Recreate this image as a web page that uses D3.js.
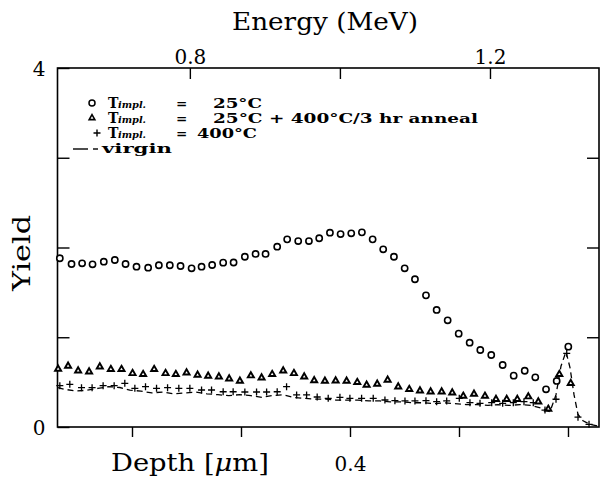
<!DOCTYPE html>
<html><head><meta charset="utf-8">
<script src="https://cdn.jsdelivr.net/npm/d3@7/dist/d3.min.js"></script>
<style>body{margin:0;background:#fff}svg{display:block}</style>
</head><body>
<svg id="c" width="600" height="477"></svg>
<script>
// ---- data (energy in MeV, yield) ----
const energyCircle = [0.6267,0.6423,0.6564,0.6703,0.6853,0.7000,0.7143,0.7289,0.7444,0.7587,0.7733,0.7876,0.8023,0.8156,0.8297,0.8444,0.8583,0.8733,0.8876,0.9009,0.9164,0.9297,0.9444,0.9587,0.9724,0.9867,1.0009,1.0151,1.0293,1.0436,1.0577,1.0720,1.0863,1.1000,1.1147,1.1289,1.1436,1.1583,1.1729,1.1871,1.2017,1.2169,1.2316,1.2463,1.2604,1.2747,1.2889,1.3044];
const yieldCircle = [1.88,1.816,1.824,1.813,1.842,1.861,1.816,1.786,1.775,1.802,1.802,1.794,1.768,1.786,1.805,1.831,1.833,1.897,1.928,1.928,2.009,2.091,2.072,2.072,2.103,2.165,2.150,2.158,2.169,2.091,1.98,1.897,1.768,1.646,1.467,1.304,1.189,1.040,0.939,0.858,0.802,0.691,0.572,0.627,0.554,0.42,0.513,0.895];

const energyTriangle = [0.6244,0.6377,0.6511,0.6657,0.6800,0.6947,0.7089,0.7236,0.7377,0.7524,0.7676,0.7813,0.7956,0.8103,0.8244,0.8387,0.8524,0.8667,0.8813,0.8956,0.9097,0.9244,0.9387,0.9524,0.9657,0.9800,0.9943,1.0089,1.0231,1.0356,1.0497,1.0636,1.0777,1.0924,1.1067,1.1209,1.1356,1.1497,1.1644,1.1787,1.1933,1.2080,1.2223,1.2364,1.2511,1.2644,1.2777,1.2924,1.3076];
const yieldTriangle = [0.646,0.680,0.627,0.616,0.672,0.643,0.643,0.598,0.587,0.643,0.598,0.587,0.605,0.579,0.568,0.560,0.538,0.513,0.572,0.549,0.587,0.627,0.598,0.560,0.518,0.513,0.516,0.513,0.498,0.468,0.479,0.524,0.449,0.420,0.404,0.393,0.393,0.382,0.345,0.368,0.345,0.309,0.309,0.309,0.338,0.282,0.2,0.587,0.487];

const energyPlus = [0.6267,0.6400,0.6556,0.6697,0.6844,0.6991,0.7133,0.7267,0.7409,0.7556,0.7703,0.7853,0.8000,0.8156,0.8289,0.8444,0.8577,0.8733,0.8889,0.9023,0.9164,0.9289,0.9423,0.9556,0.9697,0.9844,1.0000,1.0133,1.0289,1.0444,1.0600,1.0733,1.0867,1.1000,1.1147,1.1289,1.1423,1.1591,1.1733,1.1867,1.2023,1.2169,1.2311,1.2453,1.2577,1.2733,1.2880,1.3023,1.3173,1.3320];
const yieldPlus = [0.460,0.476,0.438,0.438,0.460,0.460,0.487,0.431,0.449,0.431,0.438,0.431,0.431,0.412,0.412,0.393,0.393,0.390,0.390,0.390,0.393,0.449,0.357,0.357,0.334,0.320,0.331,0.320,0.320,0.320,0.301,0.293,0.290,0.290,0.293,0.282,0.290,0.320,0.271,0.264,0.271,0.264,0.271,0.282,0.271,0.189,0.309,0.821,0.11,0.03];

const energyVirgin = [0.624,0.6333,0.6480,0.6627,0.6773,0.6920,0.7067,0.7200,0.7347,0.7493,0.7640,0.7787,0.7933,0.8080,0.8227,0.8373,0.8520,0.8667,0.8813,0.8960,0.9093,0.9240,0.9373,0.9520,0.9667,0.9813,0.9947,1.0093,1.0240,1.0387,1.0533,1.0667,1.0813,1.0960,1.1107,1.1253,1.1387,1.1533,1.1680,1.1827,1.1973,1.2107,1.2253,1.2400,1.2547,1.2680,1.2800,1.2880,1.2947,1.3013,1.3067,1.3120,1.3173,1.3240,1.3333,1.3440];
const yieldVirgin = [0.44,0.42,0.40,0.41,0.43,0.45,0.44,0.41,0.40,0.38,0.39,0.37,0.38,0.39,0.37,0.36,0.35,0.36,0.35,0.33,0.35,0.36,0.33,0.32,0.31,0.31,0.30,0.30,0.30,0.29,0.29,0.28,0.28,0.27,0.27,0.26,0.27,0.26,0.25,0.25,0.24,0.25,0.24,0.25,0.24,0.21,0.17,0.36,0.68,0.84,0.66,0.36,0.14,0.07,0.03,0.01];

const energyTicks = [0.8, 1.0, 1.2];
const energyTickLabels = ["0.8", "", "1.2"];
const depthTicks = [0, 0.2, 0.4, 0.6, 0.8];
const depthTickLabels = ["", "", "0.4", "", ""];
const yieldTicks = [0, 1, 2, 3, 4];
const yieldTickLabels = ["0", "", "", "", "4"];

const legendLabels = ["25°C", "25°C + 400°C/3 hr anneal", "400°C", "virgin"];

// ---- layout ----
const L = 57.5, R = 599, T = 68, B = 427;
const svg = d3.select("#c");
const xE = d3.scaleLinear().domain([0.6236, 1.3453]).range([L, R]);
const xD = d3.scaleLinear().domain([0.9367, -0.0569]).range([L, R]);
const y = d3.scaleLinear().domain([0, 4]).range([B, T]);
const serif = "'DejaVu Serif', serif";

// axes
const gTop = svg.append("g").attr("transform", `translate(0,${T})`)
  .call(d3.axisTop(xE).tickValues(energyTicks).tickSize(-11).tickSizeOuter(0)
    .tickPadding(4).tickFormat((d,i) => energyTickLabels[i]));
const gBot = svg.append("g").attr("transform", `translate(0,${B})`)
  .call(d3.axisBottom(xD).tickValues(depthTicks).tickSize(10).tickSizeOuter(0)
    .tickPadding(20).tickFormat((d,i) => depthTickLabels[i]));
const gLeft = svg.append("g").attr("transform", `translate(${L},0)`)
  .call(d3.axisLeft(y).tickValues(yieldTicks).tickSize(-12).tickSizeOuter(0)
    .tickPadding(12).tickFormat((d,i) => yieldTickLabels[i]));
const gRight = svg.append("g").attr("transform", `translate(${R},0)`)
  .call(d3.axisRight(y).tickValues([1,2,3]).tickSize(-12).tickSizeOuter(0).tickFormat(""));
[gTop,gBot,gLeft,gRight].forEach(g => {
  g.select(".domain").remove();
  g.selectAll("line").attr("stroke","#000").attr("stroke-width",1.4);
  g.selectAll("text").attr("fill","#000").attr("font-family",serif).attr("font-size",20);
});
gLeft.selectAll("text").attr("dy","0.35em");
gBot.selectAll("text").attr("dy","0.71em");

svg.append("rect").attr("x",L).attr("y",T).attr("width",R-L).attr("height",B-T)
  .attr("fill","none").attr("stroke","#000").attr("stroke-width",1.6);

// titles
svg.append("text").attr("x",325).attr("y",30).attr("text-anchor","middle")
  .attr("font-family",serif).attr("font-size",25).attr("textLength",186).attr("lengthAdjust","spacingAndGlyphs").text("Energy (MeV)");
svg.append("text").attr("transform","translate(30,253) rotate(-90)").attr("text-anchor","middle")
  .attr("font-family",serif).attr("font-size",25).attr("textLength",76).attr("lengthAdjust","spacingAndGlyphs").text("Yield");
const dt = svg.append("text").attr("x",111).attr("y",471)
  .attr("font-family",serif).attr("font-size",25).attr("textLength",158).attr("lengthAdjust","spacingAndGlyphs");
dt.append("tspan").text("Depth [");
dt.append("tspan").attr("font-style","italic").text("μ");
dt.append("tspan").text("m]");

// series
const plot = svg.append("g");
const line = d3.line().x((d,i) => xE(energyVirgin[i])).y(d => y(d));
plot.append("path").datum(yieldVirgin).attr("d", line).attr("fill","none")
  .attr("stroke","#000").attr("stroke-width",1.3).attr("stroke-dasharray","6,4");

const tri = d3.symbol(d3.symbolTriangle, 16);
plot.selectAll(".tri").data(yieldTriangle).join("path")
  .attr("transform",(d,i)=>`translate(${xE(energyTriangle[i])},${y(d)})`)
  .attr("d", tri).attr("fill","#fff").attr("stroke","#000").attr("stroke-width",1.9);

const plusPath = "M-3.5,0H3.5M0,-3.5V3.5";
plot.selectAll(".plus").data(yieldPlus).join("path")
  .attr("transform",(d,i)=>`translate(${xE(energyPlus[i])},${y(d)})`)
  .attr("d", plusPath).attr("fill","none").attr("stroke","#000").attr("stroke-width",1.3);

plot.selectAll(".circ").data(yieldCircle).join("circle")
  .attr("cx",(d,i)=>xE(energyCircle[i])).attr("cy",d=>y(d)).attr("r",3.1)
  .attr("fill","#fff").attr("stroke","#000").attr("stroke-width",1.6);

// legend
const rows = [103, 118, 133, 149];
const lg = svg.append("g").attr("font-family",serif).attr("font-weight","bold").attr("font-size",13.5);
lg.append("circle").attr("cx",92).attr("cy",rows[0]).attr("r",3).attr("fill","#fff").attr("stroke","#000").attr("stroke-width",1.5);
lg.append("path").attr("transform",`translate(92,${rows[1]})`).attr("d",d3.symbol(d3.symbolTriangle,14)()).attr("fill","#fff").attr("stroke","#000").attr("stroke-width",1.6);
lg.append("path").attr("transform",`translate(97,${rows[2]})`).attr("d",plusPath).attr("stroke","#000").attr("stroke-width",1.4);
for (let r = 0; r < 3; r++) {
  lg.append("text").attr("x",108).attr("y",rows[r]+5).attr("font-size",14).text("T");
  lg.append("text").attr("x",118).attr("y",rows[r]+5).attr("font-size",9).attr("font-style","italic")
    .attr("textLength",28).attr("lengthAdjust","spacingAndGlyphs").text("impl.");
  lg.append("text").attr("x",176).attr("y",rows[r]+5).text("=");
}
lg.append("text").attr("x",213).attr("y",rows[0]+5).attr("textLength",49).attr("lengthAdjust","spacingAndGlyphs").text(legendLabels[0]);
lg.append("text").attr("x",213).attr("y",rows[1]+5).attr("textLength",265).attr("lengthAdjust","spacingAndGlyphs").text(legendLabels[1]);
lg.append("text").attr("x",197).attr("y",rows[2]+5).attr("textLength",60).attr("lengthAdjust","spacingAndGlyphs").text(legendLabels[2]);
lg.append("line").attr("x1",73).attr("x2",88).attr("y1",rows[3]).attr("y2",rows[3]).attr("stroke","#000").attr("stroke-width",1.4);
lg.append("line").attr("x1",93).attr("x2",98).attr("y1",rows[3]).attr("y2",rows[3]).attr("stroke","#000").attr("stroke-width",1.4);
lg.append("text").attr("x",102).attr("y",rows[3]+4).attr("textLength",70).attr("lengthAdjust","spacingAndGlyphs").text(legendLabels[3]);
</script>
</body></html>
